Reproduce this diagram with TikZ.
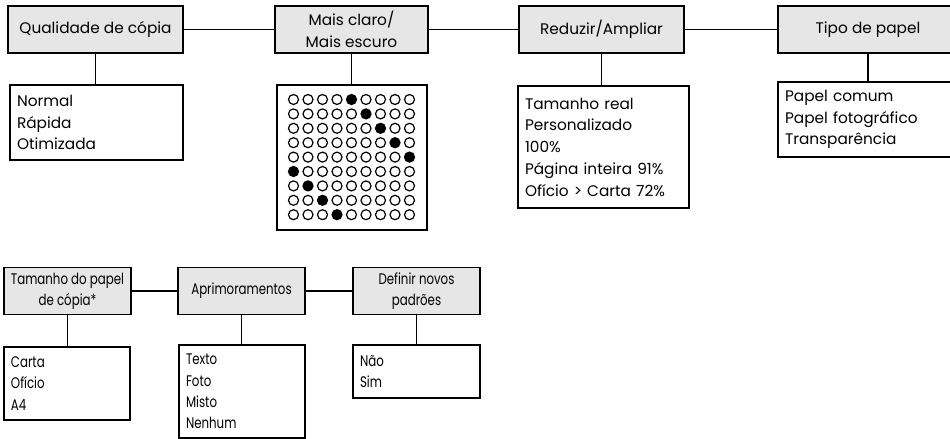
\documentclass[tikz,border=0pt]{standalone}
\usepackage{fontspec}
\setmainfont{Poppins}
\newfontfamily\narrowfont[FakeStretch=0.77]{Poppins}
\definecolor{hdrgray}{HTML}{E6E6E6}

\begin{document}
\begin{tikzpicture}[x=0.75pt,y=-0.75pt,line width=1.4pt,
    font=\fontsize{11.5pt}{16.3pt}\selectfont,
    hdr/.style 2 args={draw=black,fill=hdrgray,align=center,inner sep=0pt,
        minimum width=#1*0.75pt,minimum height=#2*0.75pt},
    lst/.style 2 args={draw=black,align=left,inner xsep=5.25pt,inner ysep=0pt,
        text width=(#1-14)*0.75pt,minimum height=#2*0.75pt},
    narrow/.style={font=\narrowfont\fontsize{11.5pt}{16pt}\selectfont},
    dot/.style={line width=0.9pt,draw=black}]
    \clip (0,0) rectangle (950,439);
    % top row
    \node[hdr={175}{47}] (qual) at (95.5,29.5) {Qualidade de cópia};
    \node[hdr={153}{47}] (claro) at (351.5,29.5) {Mais claro/\\Mais escuro};
    \node[hdr={165}{47}] (reduz) at (601.5,29.5) {Reduzir/Ampliar};
    \node[hdr={180}{47}] (tipo) at (868,29.5) {Tipo de papel};
    \node[lst={173}{75}] (normal) at (96.5,122.5) {Normal\\Rápida\\Otimizada};
    \node[draw=black,inner sep=0pt,minimum width=150*0.75pt,minimum height=145*0.75pt] (dots) at (352,157.5) {};
    \node[lst={171}{122}] (tamreal) at (603.5,147) {Tamanho real\\Personalizado\\100\%\\Página inteira 91\%\\Ofício > Carta 72\%};
    \node[lst={180}{75}] (papel) at (868,119.5) {Papel comum\\Papel fotográfico\\Transparência};
    % bottom row
    \node[hdr={127}{47},narrow] (tampap) at (67.5,291) {Tamanho do papel\\de cópia*};
    \node[hdr={127}{47},narrow] (aprim) at (241.5,291) {Aprimoramentos};
    \node[hdr={127}{47},narrow] (defin) at (416.5,291) {Definir novos\\padrões};
    \node[lst={126}{73},narrow] (carta) at (67,383.5) {Carta\\Ofício\\A4};
    \node[lst={126}{93},narrow] (texto) at (242,391.5) {Texto\\Foto\\Misto\\Nenhum};
    \node[lst={127}{53},narrow] (nao) at (416.5,371.5) {Não\\Sim};
    % dot pattern
    \foreach \r in {1,...,9}{
        \pgfmathtruncatemacro\fc{mod(\r+3,9)+1}
        \foreach \c in {1,...,9}{
            \ifnum\c=\fc \def\dotfill{black}\else\def\dotfill{white}\fi
            \draw[dot,fill=\dotfill] ({293.5+(\c-1)*14.5},{99.5+(\r-1)*14.4}) circle[radius=3.75pt];
        }
    }
    % connectors
    \draw (qual.east) -- (claro.west);
    \draw (claro.east) -- (reduz.west);
    \draw (reduz.east) -- (tipo.west);
    \draw (tampap.east) -- (aprim.west);
    \draw (aprim.east) -- (defin.west);
    \draw (qual.south) -- (qual.south |- normal.north);
    \draw (claro.south) -- (claro.south |- dots.north);
    \draw (reduz.south) -- (reduz.south |- tamreal.north);
    \draw (tipo.south) -- (tipo.south |- papel.north);
    \draw (tampap.south) -- (tampap.south |- carta.north);
    \draw (aprim.south) -- (aprim.south |- texto.north);
    \draw (defin.south) -- (defin.south |- nao.north);
\end{tikzpicture}
\end{document}
